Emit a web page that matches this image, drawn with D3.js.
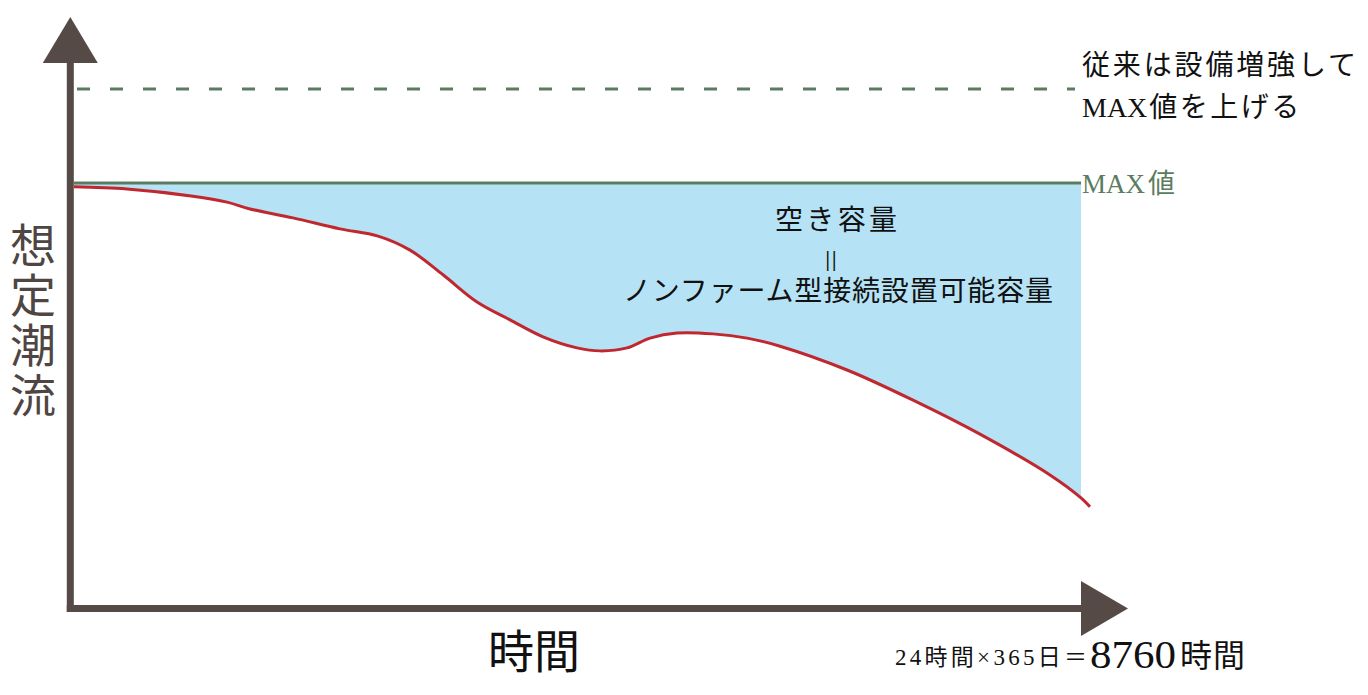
<!DOCTYPE html>
<html><head><meta charset="utf-8">
<script src="https://cdn.jsdelivr.net/npm/d3@7"></script>
<style>
html,body{margin:0;padding:0;background:#fff;}
svg{display:block;}
text{font-family:'Liberation Serif','Noto Sans CJK JP',serif;}
</style></head>
<body>
<svg id="c" width="1368" height="695"></svg>
<script>
// ---- data ----
const hours = [0,461,1035,1331,1531,1905,2314,2645,2923,3210,3506,3793,4080,4376,4576,4811,5011,5246,5559,5855,6142,6725,7299,7881,8490,8760,8838];
const flow  = [99.1,98.6,96.9,95.5,93.9,91.8,89.2,87.5,84.2,78.4,72.0,67.8,63.8,61.2,60.5,61.2,63.5,64.7,64.5,63.5,61.6,56.0,48.9,40.9,31.3,25.9,23.8];
const maxValue = 100;
const upgradedMax = 122.1;
const totalHours = 8760;
const yLabel = ["想","定","潮","流"];
const xLabel = "時間";
const capacityLabels = ["空き容量","||","ノンファーム型接続設置可能容量"];
const upgradeLine1 = "従来は設備増強して";
const upgradeLine2 = ["MAX","値を上げる"];
const maxLabel = ["MAX","値"];
const formulaLabels = ["24時間×365日＝","8760","時間"];

const svg = d3.select("#c");
const x = d3.scaleLinear().domain([0,totalHours]).range([74,1081]);
const y = d3.scaleLinear().domain([0,maxValue]).range([608,183]);
const axisColor = "#554a45";
const green = "#5b7c60";

const pts = hours.map((h,i)=>({h, v:flow[i]}));
const curve = d3.curveCatmullRom.alpha(0.5);

// fill: clip the area under MAX to x<=totalHours
svg.append("clipPath").attr("id","clipA").append("rect")
  .attr("x",x(0)).attr("y",0).attr("width",x(totalHours)-x(0)).attr("height",695);
svg.append("path").datum(pts)
  .attr("clip-path","url(#clipA)")
  .attr("d", d3.area().x(d=>x(d.h)).y0(y(maxValue)).y1(d=>y(d.v)).curve(curve))
  .attr("fill","#b6e2f5");

// dashed upgraded max
svg.append("line").attr("x1",x(0)).attr("x2",1075)
  .attr("y1",y(upgradedMax)).attr("y2",y(upgradedMax))
  .attr("stroke",green).attr("stroke-width",3).attr("stroke-dasharray","13,20").attr("stroke-dashoffset",-3);

// MAX line
svg.append("line").attr("x1",x(0)).attr("x2",x(totalHours))
  .attr("y1",y(maxValue)).attr("y2",y(maxValue))
  .attr("stroke",green).attr("stroke-width",3);

// red curve
svg.append("path").datum(pts)
  .attr("d", d3.line().x(d=>x(d.h)).y(d=>y(d.v)).curve(curve))
  .attr("fill","none").attr("stroke","#c0272e").attr("stroke-width",3);

// axes
const x0 = 70.3, yb = 608.5;
svg.append("line").attr("x1",x0).attr("x2",x0).attr("y1",60).attr("y2",yb+3.5)
  .attr("stroke",axisColor).attr("stroke-width",7);
svg.append("line").attr("x1",x0-3.5).attr("x2",1084).attr("y1",yb).attr("y2",yb)
  .attr("stroke",axisColor).attr("stroke-width",7);
svg.append("path").attr("d",`M${x0},17 L${x0+27.5},63 L${x0-27.5},63 Z`).attr("fill",axisColor);
svg.append("path").attr("d",`M1128,${yb} L1081,${yb-27.5} L1081,${yb+27.5} Z`).attr("fill",axisColor);

// y label (vertical)
svg.selectAll(".yl").data(yLabel).enter().append("text")
  .attr("x",33).attr("y",(d,i)=>246+i*50).attr("text-anchor","middle").attr("dominant-baseline","central")
  .attr("font-size",46).attr("fill","#4f4643").text(d=>d);

// x label
svg.append("text").attr("x",534).attr("y",668).attr("text-anchor","middle")
  .attr("font-size",46).attr("fill","#111").text(xLabel);

// hours formula
svg.append("text").attr("x",895).attr("y",665).attr("font-size",23).attr("fill","#111")
  .attr("textLength",192).attr("lengthAdjust","spacing").text(formulaLabels[0]);
svg.append("text").attr("x",1090).attr("y",668).attr("font-size",40).attr("fill","#111")
  .attr("textLength",86).attr("lengthAdjust","spacingAndGlyphs").text(formulaLabels[1]);
svg.append("text").attr("x",1180).attr("y",667).attr("font-size",32).attr("fill","#111")
  .attr("textLength",65).attr("lengthAdjust","spacing").text(formulaLabels[2]);

// upgrade labels
svg.append("text").attr("x",1082).attr("y",75).attr("font-size",28).attr("fill","#111")
  .attr("textLength",274).attr("lengthAdjust","spacing").text(upgradeLine1);
const u2 = svg.append("text").attr("x",1082).attr("y",117).attr("font-size",28).attr("fill","#111");
u2.append("tspan").text(upgradeLine2[0]);
u2.append("tspan").attr("dx",2).attr("letter-spacing",2.5).text(upgradeLine2[1]);

// MAX label
const m = svg.append("text").attr("x",1082).attr("y",193).attr("font-size",27).attr("fill",green);
m.append("tspan").text(maxLabel[0]);
m.append("tspan").attr("dx",3).text(maxLabel[1]);

// capacity labels
svg.append("text").attr("x",775).attr("y",230).attr("font-size",28).attr("fill","#111")
  .attr("textLength",122).attr("lengthAdjust","spacing").text(capacityLabels[0]);
svg.append("text").attr("x",832).attr("y",266).attr("text-anchor","middle").attr("font-size",20)
  .attr("font-family","'DejaVu Sans',sans-serif").attr("font-weight","bold")
  .attr("letter-spacing",2).attr("fill","#111").text(capacityLabels[1]);
svg.append("text").attr("x",623).attr("y",301).attr("font-size",28).attr("fill","#111")
  .attr("textLength",430).attr("lengthAdjust","spacing").text(capacityLabels[2]);
</script>
</body></html>
